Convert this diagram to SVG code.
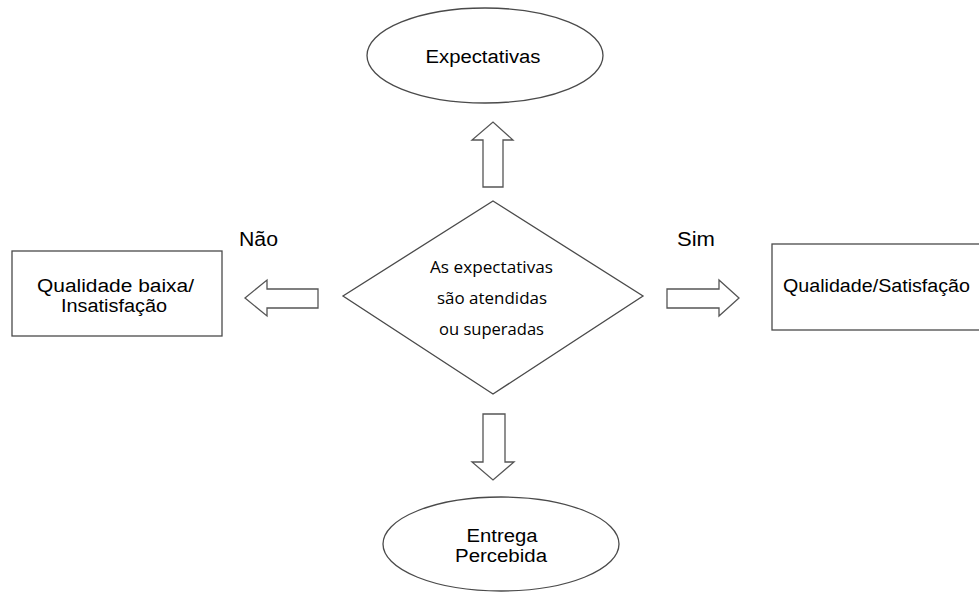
<svg xmlns="http://www.w3.org/2000/svg" width="979" height="592" viewBox="0 0 979 592">
<style>
.shape{fill:#fff;stroke:#4a4a4a;stroke-width:1.3}
.arrow{fill:#fff;stroke:#555;stroke-width:1.3;stroke-linejoin:miter}
.t{font-family:"Liberation Sans",Arial,sans-serif;font-size:18px;fill:#000;text-anchor:middle}
.c{font-family:"Open Sans","Noto Sans",sans-serif;font-size:17px;fill:#000;text-anchor:middle}
.lbl{font-family:"Liberation Sans",Arial,sans-serif;font-size:20px;fill:#000}
</style>
<rect width="979" height="592" fill="#fff"/>
<g id="expectativas">
<ellipse class="shape" cx="485" cy="55.5" rx="118" ry="47.5"/>
<text class="t" x="483" y="63" textLength="115" lengthAdjust="spacingAndGlyphs">Expectativas</text>
</g>
<g id="decisao">
<polygon class="shape" points="493,201 643,296 493,394 343,296"/>
<text class="c" x="491.5" y="273" textLength="123" lengthAdjust="spacingAndGlyphs">As expectativas</text>
<text class="c" x="492" y="304" textLength="110" lengthAdjust="spacingAndGlyphs">são atendidas</text>
<text class="c" x="491.5" y="335" textLength="105" lengthAdjust="spacingAndGlyphs">ou superadas</text>
</g>
<g id="qualidade-baixa">
<rect class="shape" x="12" y="251" width="210" height="85"/>
<text class="t" x="115.5" y="292" textLength="157" lengthAdjust="spacingAndGlyphs">Qualidade baixa/</text>
<text class="t" x="114" y="312" textLength="106" lengthAdjust="spacingAndGlyphs">Insatisfação</text>
</g>
<g id="qualidade-satisfacao">
<rect class="shape" x="772" y="244" width="215" height="86"/>
<text class="t" x="876.5" y="292" textLength="187" lengthAdjust="spacingAndGlyphs">Qualidade/Satisfação</text>
</g>
<g id="entrega-percebida">
<ellipse class="shape" cx="501" cy="544" rx="118" ry="47"/>
<text class="t" x="502" y="542" textLength="71" lengthAdjust="spacingAndGlyphs">Entrega</text>
<text class="t" x="501" y="562" textLength="92" lengthAdjust="spacingAndGlyphs">Percebida</text>
</g>
<g id="connectors">
<polygon class="arrow" points="483,187 503,187 503,140 513,140 493,122 472,140 483,140"/>
<polygon class="arrow" points="318,289 318,308 267,308 267,316 245,298 267,280 267,289"/>
<polygon class="arrow" points="667,289 719,289 719,280 739,298 719,316 719,308 667,308"/>
<polygon class="arrow" points="483,414 505,414 505,462 514,462 493,480 472,462 483,462"/>
<text class="lbl" x="239" y="246" textLength="39" lengthAdjust="spacingAndGlyphs">Não</text>
<text class="lbl" x="677" y="246" textLength="38" lengthAdjust="spacingAndGlyphs">Sim</text>
</g>
</svg>
